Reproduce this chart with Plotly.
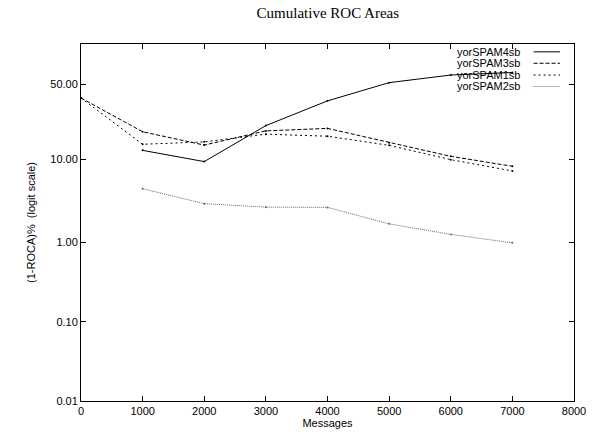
import numpy as np
import plotly.graph_objects as go

messages = [0, 1000, 2000, 3000, 4000, 5000, 6000, 7000]
series_names = ["yorSPAM4sb", "yorSPAM3sb", "yorSPAM1sb", "yorSPAM2sb"]
spam4sb = [None, 12.7, 9.5, 23.0, 38.0, 51.0, 56.5, 58.3]
spam3sb = [40.0, 20.0, 14.5, 20.4, 21.6, 15.4, 10.9, 8.4]
spam1sb = [40.0, 14.8, 15.7, 18.9, 18.0, 14.4, 10.0, 7.4]
spam2sb = [None, 4.56, 3.0, 2.72, 2.7, 1.69, 1.25, 0.98]
ytick_values = [0.01, 0.1, 1.0, 10.0, 50.0]
ytick_labels = ["0.01", "0.10", "1.00", "10.00", "50.00"]

styles = [
    dict(color="black", dash="solid", width=1),
    dict(color="black", dash="4px,2px", width=1),
    dict(color="black", dash="2px,3px", width=1),
    dict(color="#666666", dash="1px,1px", width=1),
]


def logit_pct(v):
    if v is None:
        return None
    p = v / 100.0
    return float(np.log(p / (1 - p)))


fig = go.Figure()
for name, vals, st in zip(series_names, [spam4sb, spam3sb, spam1sb, spam2sb], styles):
    xs = [m for m, v in zip(messages, vals) if v is not None]
    ys = [logit_pct(v) for v in vals if v is not None]
    fig.add_trace(go.Scatter(
        x=xs, y=ys, mode="lines+markers", name=name,
        line=dict(color=st["color"], dash=st["dash"], width=st["width"]),
        marker=dict(size=2, color=st["color"]),
        showlegend=False,
    ))

# key (text right-aligned, sample to the right), gnuplot style
row_y = [0.978, 0.946, 0.913, 0.881]
for name, st, yp in zip(series_names, styles, row_y):
    fig.add_annotation(
        x=0.8945, y=yp, xref="paper", yref="paper", text=name,
        showarrow=False, xanchor="right", yanchor="middle",
        font=dict(family="Liberation Sans, Arial, sans-serif", size=11, color="black"),
    )
    fig.add_shape(
        type="line", xref="paper", yref="paper",
        x0=0.918, x1=0.9716, y0=yp, y1=yp,
        line=dict(color=st["color"], dash=st["dash"], width=st["width"]),
    )

font_main = dict(family="Liberation Sans, Arial, sans-serif", size=11, color="black")

fig.update_layout(
    width=606, height=437,
    margin=dict(l=81, r=32, t=44, b=36, autoexpand=False),
    paper_bgcolor="white", plot_bgcolor="white",
    showlegend=False,
    font=font_main,
    title=dict(
        text="Cumulative ROC Areas", x=0.541, xanchor="center", y=0.970, yanchor="middle",
        font=dict(family="Liberation Serif, DejaVu Serif, serif", size=15, color="black"),
    ),
)
fig.update_xaxes(
    range=[0, 8000], tickmode="linear", tick0=0, dtick=1000,
    ticks="inside", ticklen=5, tickcolor="black", tickwidth=1,
    showline=True, linecolor="black", linewidth=1, mirror="ticks",
    showgrid=False, zeroline=False, automargin=False,
    title=dict(text="Messages", font=font_main, standoff=2),
    tickfont=font_main,
)
fig.update_yaxes(
    range=[logit_pct(0.01), 1.163],
    tickmode="array", tickvals=[logit_pct(v) for v in ytick_values], ticktext=ytick_labels,
    ticks="inside", ticklen=5, tickcolor="black", tickwidth=1,
    showline=True, linecolor="black", linewidth=1, mirror="ticks",
    showgrid=False, zeroline=False, automargin=False,
    title=dict(text="(1-ROCA)%  (logit scale)", font=font_main, standoff=12),
    tickfont=font_main,
)

fig.write_html(
    "out.html",
    config={"displayModeBar": False},
    post_script="document.body.style.margin='0';document.body.style.overflow='hidden';",
)
